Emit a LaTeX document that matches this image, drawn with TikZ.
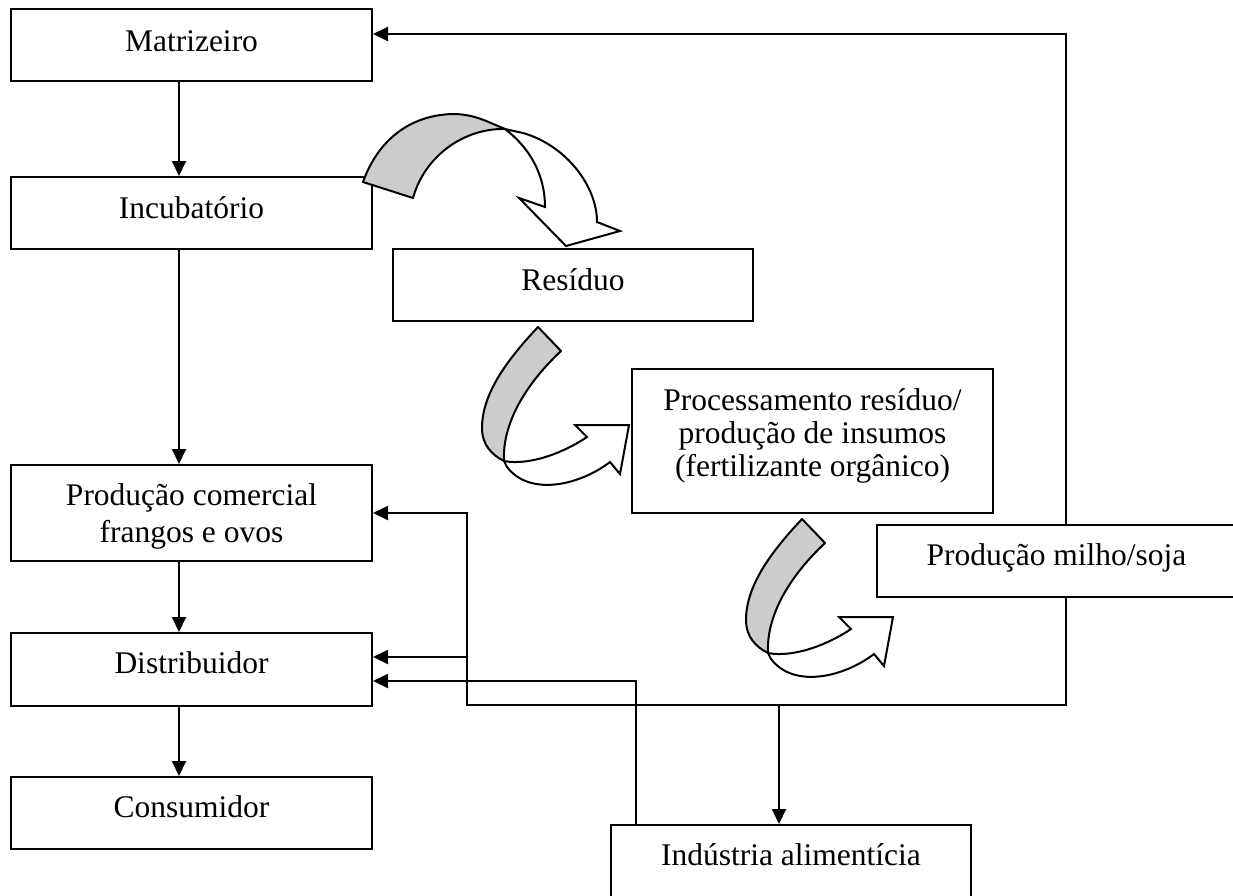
\documentclass[tikz,border=0pt]{standalone}
\usepackage{fontspec}
\setmainfont{Liberation Serif}
\usetikzlibrary{arrows.meta,backgrounds}
\definecolor{bandgray}{RGB}{204,204,204}
\begin{document}
\begin{tikzpicture}[x=1pt,y=-1pt,
  boxshape/.style={draw=black, line width=2pt, fill=white, inner sep=0pt, rectangle},
  lbl/.style={font=\fontsize{31.5}{36}\selectfont, inner sep=0pt, anchor=base},
  conn/.style={draw=black, line width=1.9pt},
  arr/.style={conn, -{Triangle[length=15pt,width=14pt]}},
  band/.style={draw=black, line width=2pt, fill=bandgray, line join=round},
  face/.style={draw=black, line width=2pt, fill=white, line join=miter},
  ribbon/.pic={
    \draw[band] (538,327) .. controls (505,362) and (482,395) .. (482,428)
       .. controls (482,445) and (492,455) .. (504,461)
       .. controls (502,420) and (530,380) .. (561,351) -- cycle;
    \draw[face] (504,461) .. controls (530,466) and (565,452) .. (587,437)
       -- (575,425) -- (629,425) -- (620,474) -- (610,462)
       .. controls (580,485) and (530,497) .. (507,467) -- cycle;
  }]
\useasboundingbox (0,0) rectangle (1233,895);
\clip (0,0) rectangle (1233,895);

% boxes
\node[boxshape, minimum width=361pt, minimum height=72pt] (mat) at (191.5,45) {};
\node[lbl] (matT) at (191.5,51) {Matrizeiro};
\node[boxshape, minimum width=361pt, minimum height=72pt] (inc) at (191.5,213) {};
\node[lbl] (incT) at (191.5,218) {Incubatório};
\node[boxshape, minimum width=361pt, minimum height=96pt] (prod) at (191.5,513) {};
\node[lbl] (prodT1) at (191.5,505) {Produção comercial};
\node[lbl] (prodT2) at (191.5,542) {frangos e ovos};
\node[boxshape, minimum width=361pt, minimum height=73pt] (dist) at (191.5,669.5) {};
\node[lbl] (distT) at (191.5,673) {Distribuidor};
\node[boxshape, minimum width=361pt, minimum height=72pt] (cons) at (191.5,813) {};
\node[lbl] (consT) at (191.5,817) {Consumidor};
\node[boxshape, minimum width=360pt, minimum height=72pt] (res) at (573,285) {};
\node[lbl] (resT) at (573,290) {Resíduo};
\node[boxshape, minimum width=361pt, minimum height=144pt] (proc) at (812.5,441) {};
\node[lbl] (procT1) at (812.5,410) {Processamento resíduo/};
\node[lbl] (procT2) at (812.5,443) {produção de insumos};
\node[lbl] (procT3) at (812.5,476) {(fertilizante orgânico)};
\node[boxshape, minimum width=360pt, minimum height=72pt] (milho) at (1057,561) {};
\node[lbl] (milhoT) at (1056.5,565) {Produção milho/soja};
\node[boxshape, minimum width=360pt, minimum height=80pt] (ind) at (791,865) {};
\node[lbl] (indT) at (791,865) {Indústria alimentícia};

% routing coordinates
\coordinate (cL) at (179,0);
\coordinate (vA) at (467,0);
\coordinate (vB) at (636,0);
\coordinate (vC) at (779,0);
\coordinate (vD) at (1066,0);
\coordinate (hBot) at (0,705);
\coordinate (hTop) at (0,34);
\coordinate (hD1) at (0,657);
\coordinate (hD2) at (0,681);

\begin{scope}[on background layer]
  \fill[white] (0,0) rectangle (1233,895);
  \draw[arr] (mat.south -| cL) -- (inc.north -| cL);
  \draw[arr] (inc.south -| cL) -- (prod.north -| cL);
  \draw[arr] (prod.south -| cL) -- (dist.north -| cL);
  \draw[arr] (dist.south -| cL) -- (cons.north -| cL);
  \draw[arr] (milho.north -| vD) |- (mat.east |- hTop);
  \draw[arr] (milho.south -| vD) |- (vA |- hBot) |- (prod.east);
  \draw[arr] (vA |- hD1) -- (dist.east |- hD1);
  \draw[arr] (ind.north -| vB) |- (dist.east |- hD2);
  \draw[arr] (vC |- hBot) -- (ind.north -| vC);
\end{scope}

% curved ribbon arrow: Incubatorio -> Residuo
\draw[band] (413,198) -- (363,182) .. controls (378,140) and (410,115) .. (453,114)
   .. controls (475,114) and (490,123) .. (505,129)
   .. controls (465,128) and (425,155) .. (413,198) -- cycle;
\draw[face] (505,129) -- (523,133) .. controls (565,145) and (597,185) .. (597,222)
   -- (620,231) -- (566,246) -- (519,198) -- (545,207)
   .. controls (545,175) and (530,148) .. (505,129) -- cycle;

% Residuo -> Processamento, Processamento -> Producao milho/soja
\pic (arrB) at (0,0) {ribbon};
\pic (arrC) at (264,192) {ribbon};
\end{tikzpicture}
\end{document}
